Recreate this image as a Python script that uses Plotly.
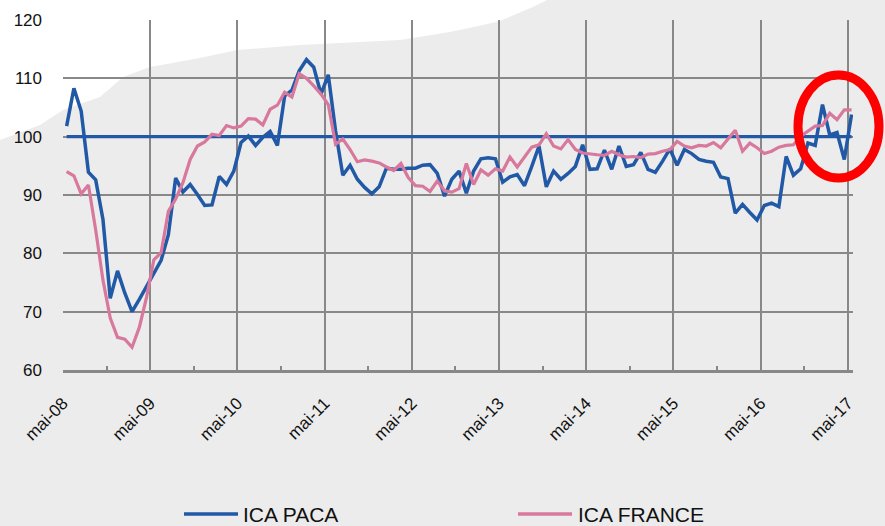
import plotly.graph_objects as go

# ---- data ----
tick_labels = ["mai-08", "mai-09", "mai-10", "mai-11", "mai-12",
               "mai-13", "mai-14", "mai-15", "mai-16", "mai-17"]

ica_paca = [101.8, 108.3, 104.4, 93.9, 92.6, 85.8, 72.3, 77.0, 73.2, 70.0,
            72.1, 74.3, 76.5, 78.8, 83.2, 92.9, 90.5, 91.8, 90.1, 88.2,
            88.3, 93.2, 91.8, 94.1, 99.0, 100.1, 98.5, 99.9, 100.9, 98.5,
            107.0, 108.0, 111.3, 113.2, 111.9, 107.3, 110.6, 101.0, 93.4, 95.1,
            92.7, 91.3, 90.2, 91.4, 94.6, 94.4, 94.4, 94.6, 94.6, 95.1,
            95.2, 93.7, 89.8, 92.7, 94.1, 90.3, 94.1, 96.2, 96.4, 96.2,
            92.2, 93.1, 93.5, 91.6, 94.9, 98.4, 91.4, 94.1, 92.7, 93.7,
            94.9, 98.6, 94.4, 94.5, 97.7, 94.4, 98.4, 94.9, 95.2, 97.3,
            94.4, 93.9, 95.8, 97.9, 95.1, 97.8, 97.1, 96.1, 95.8, 95.6,
            93.1, 92.8, 86.9, 88.4, 87.0, 85.7, 88.2, 88.6, 88.0, 96.6,
            93.4, 94.5, 98.9, 98.5, 105.5, 100.3, 100.7, 96.1, 103.8]

ica_france = [94.0, 93.3, 90.2, 91.7, 84.0, 75.4, 68.9, 65.6, 65.3, 63.9,
              67.3, 72.5, 78.9, 80.1, 87.2, 89.3, 92.1, 96.1, 98.4, 99.1,
              100.4, 100.2, 101.9, 101.5, 101.8, 103.1, 103.0, 102.0, 104.7, 105.4,
              107.6, 106.8, 110.8, 110.0, 108.7, 107.3, 105.5, 98.7, 99.6, 97.8,
              95.7, 96.0, 95.8, 95.5, 94.8, 94.2, 95.4, 93.0, 91.6, 91.5,
              90.6, 92.4, 90.7, 90.5, 91.1, 95.4, 91.8, 94.3, 93.4, 94.5,
              94.1, 96.5, 94.8, 96.4, 98.2, 98.6, 100.5, 98.4, 97.9, 99.5,
              97.8, 97.2, 97.0, 96.9, 96.8, 97.5, 96.9, 96.5, 96.6, 96.4,
              97.0, 97.1, 97.5, 97.8, 99.2, 98.4, 98.1, 98.5, 98.4, 99.0,
              98.1, 99.5, 101.1, 97.5, 98.9, 98.1, 97.1, 97.5, 98.2, 98.5,
              98.6, 100.1, 100.9, 101.8, 101.9, 104.0, 102.9, 104.6, 104.6]

base_level = 100
months = list(range(len(ica_paca)))

BLUE = "#2159a6"
PINK = "#d8789c"
GRID = "#888888"
BG = "#ececec"
FONT = "Arial, Liberation Sans, sans-serif"

# ---- layout geometry (pixels) ----
W, H = 885, 526
L, R, T, B = 63, 32, 20, 156
PW, PH = W - L - R, H - T - B


def px(x):
    return (x - L) / PW


def py(y):
    return (H - B - y) / PH


fig = go.Figure()
fig.add_trace(go.Scatter(x=months, y=[base_level] * len(months), mode="lines",
                         name="base 100", line=dict(color=BLUE, width=3.2),
                         showlegend=False, hoverinfo="skip"))
fig.add_trace(go.Scatter(x=months, y=ica_paca, mode="lines", name="ICA PACA",
                         line=dict(color=BLUE, width=3.5), showlegend=False))
fig.add_trace(go.Scatter(x=months, y=ica_france, mode="lines", name="ICA FRANCE",
                         line=dict(color=PINK, width=3.2), showlegend=False))

# white background hill
hill = [(0, 140), (40, 125), (63, 110), (100, 97), (123, 77), (150, 67),
        (200, 58), (237, 50), (300, 45), (400, 40), (450, 32), (483, 25),
        (500, 21), (533, 7), (547, 0)]
path = "M {} {} ".format(px(0), py(0))
for hx, hy in hill:
    path += "L {} {} ".format(px(hx), py(hy))
path += "Z"

shapes = [
    dict(type="path", path=path, xref="paper", yref="paper",
         fillcolor="white", line=dict(width=0), layer="below"),
    dict(type="circle", xref="paper", yref="paper",
         x0=px(798), x1=px(879), y0=py(178), y1=py(75),
         line=dict(color="#ff0000", width=9)),
    # legend lines
    dict(type="line", xref="paper", yref="paper", x0=px(184), x1=px(238),
         y0=py(514), y1=py(514), line=dict(color=BLUE, width=3.5)),
    dict(type="line", xref="paper", yref="paper", x0=px(518), x1=px(572),
         y0=py(514), y1=py(514), line=dict(color=PINK, width=3.5)),
]

annotations = [
    dict(text="ICA PACA", xref="paper", yref="paper", x=px(241), y=py(514),
         xanchor="left", yanchor="middle", showarrow=False,
         font=dict(family=FONT, size=21, color="#111111")),
    dict(text="ICA FRANCE", xref="paper", yref="paper", x=px(576), y=py(514),
         xanchor="left", yanchor="middle", showarrow=False,
         font=dict(family=FONT, size=21, color="#111111")),
]

grid_pos = [12 * k - 0.5 for k in range(len(tick_labels))]
minor_pos = [12 * k + 5.5 for k in range(len(tick_labels) - 1)]

fig.update_layout(
    width=W, height=H,
    margin=dict(l=L, r=R, t=T, b=B, pad=0),
    paper_bgcolor=BG, plot_bgcolor="rgba(0,0,0,0)",
    font=dict(family=FONT, color="#111111"),
    shapes=shapes, annotations=annotations,
    showlegend=False,
    xaxis=dict(range=[-0.5, 108.2], tickmode="array", tickvals=grid_pos,
               ticktext=tick_labels, tickangle=-45,
               showgrid=True, gridcolor=GRID, gridwidth=2,
               showline=True, linecolor=GRID, linewidth=2.5,
               ticks="", zeroline=False, ticklabelstandoff=14,
               tickfont=dict(size=17, family=FONT, color="#111111"),
               minor=dict(tickvals=minor_pos, ticks="inside", ticklen=4,
                          tickwidth=1.5, tickcolor=GRID, showgrid=False)),
    yaxis=dict(range=[60, 120], tickmode="array",
               tickvals=[60, 70, 80, 90, 100, 110, 120],
               showgrid=True, gridcolor=GRID, gridwidth=2,
               showline=False, zeroline=False, ticks="",
               ticklabelstandoff=20,
               tickfont=dict(size=17, family=FONT, color="#111111")),
)

fig.write_html("out.html",
               config={"displayModeBar": False},
               post_script="document.body.style.margin='0';"
                           "document.body.style.padding='0';")
